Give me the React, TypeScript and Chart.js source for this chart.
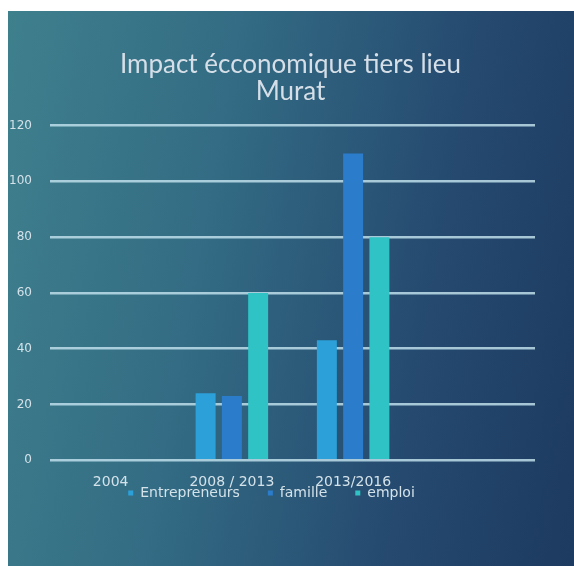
import React, { useEffect, useRef } from "react";
import { Chart, registerables } from "chart.js";

Chart.register(...registerables);

const categories = ["2004", "2008 / 2013", "2013/2016", ""];
const entrepreneurs = [0, 24, 43, null];
const famille = [0, 23, 110, null];
const emploi = [0, 60, 80, null];
const yTicks = [0, 20, 40, 60, 80, 100, 120];

const shiftBoxes = {
  id: "shiftBoxes",
  afterLayout(chart: any) {
    const lg = chart.legend;
    if (lg) {
      lg.top -= 39;
      lg.bottom -= 39;
    }
    const t = chart.titleBlock;
    if (t) {
      t.left += 19;
      t.right += 19;
    }
  },
};

export default function App() {
  const ref = useRef<HTMLCanvasElement | null>(null);
  useEffect(() => {
    if (!ref.current) return;
    const txt = "#d4e2ea";
    const chart = new Chart(ref.current, {
      type: "bar",
      plugins: [shiftBoxes],
      data: {
        labels: categories,
        datasets: [
          { label: "Entrepreneurs", data: entrepreneurs, backgroundColor: "#2ca1d9" },
          { label: "famille", data: famille, backgroundColor: "#2b7dcc" },
          { label: "emploi", data: emploi, backgroundColor: "#30c3c6" },
        ],
      },
      options: {
        animation: false,
        responsive: false,
        maintainAspectRatio: false,
        layout: { padding: { top: 0, left: 0, right: 39, bottom: 17 } },
        datasets: { bar: { categoryPercentage: 0.65, barPercentage: 0.76 } },
        plugins: {
          title: {
            display: true,
            text: ["Impact écconomique tiers lieu", "Murat"],
            color: "#d6dfe8",
            font: { family: "Lato", size: 26, weight: "normal", lineHeight: 1.05 },
            padding: { top: 40, bottom: 20 },
          },
          legend: {
            display: true,
            position: "bottom",
            labels: {
              color: txt,
              font: { family: "DejaVu Sans", size: 14 },
              boxWidth: 5,
              boxHeight: 5,
              padding: 28,
            },
          },
          tooltip: { enabled: false },
        },
        scales: {
          x: {
            grid: { display: false },
            border: { display: false },
            ticks: { color: txt, font: { family: "DejaVu Sans", size: 14 }, padding: 6, maxRotation: 0 },
          },
          y: {
            min: 0,
            max: 120,
            afterFit: (s: any) => { s.width = 42; },
            afterBuildTicks: (s: any) => { s.ticks = yTicks.map((v) => ({ value: v })); },
            grid: { color: "rgba(190,222,234,0.85)", lineWidth: 2.5, drawTicks: false },
            border: { display: false },
            ticks: { color: txt, font: { family: "DejaVu Sans", size: 12 }, padding: 18 },
          },
        },
      },
    });
    return () => chart.destroy();
  }, []);
  return (
    <div
      style={{
        position: "absolute",
        left: 8,
        top: 11,
        width: 566,
        height: 555,
        background:
          "linear-gradient(100deg, #3f808d 0%, #336c84 35%, #25496f 72%, #1d3a60 100%)",
      }}
    >
      <canvas ref={ref} width={566} height={555} style={{ display: "block" }} />
    </div>
  );
}
